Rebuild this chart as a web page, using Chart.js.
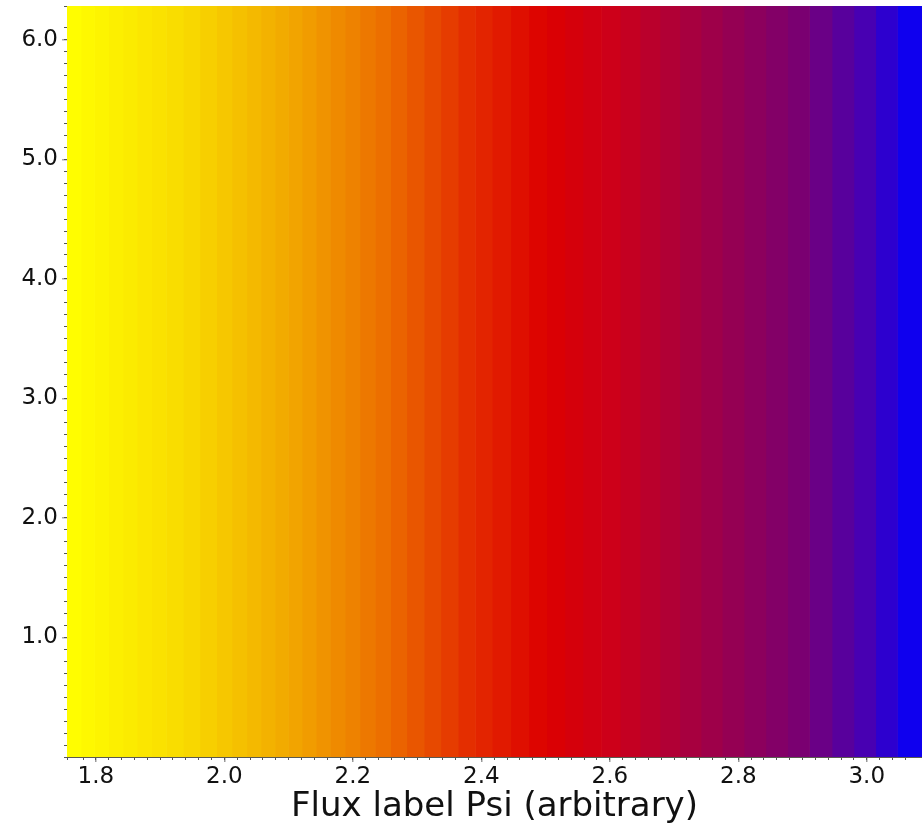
<!DOCTYPE html>
<html>
<head>
<meta charset="utf-8">
<script src="https://cdn.jsdelivr.net/npm/chart.js@4/dist/chart.umd.min.js"></script>
<style>
  html, body { margin: 0; padding: 0; background: #ffffff; }
  #wrap { width: 922px; height: 828px; position: relative; }
</style>
</head>
<body>
<div id="wrap"><canvas id="c" width="922" height="828"></canvas></div>
<script>
// ---- data ----
// Boundaries of the constant-colour cells along the flux label Psi
const psiEdges = [1.755, 1.777, 1.798, 1.820, 1.842, 1.864, 1.887, 1.910, 1.936, 1.962,
  1.988, 2.012, 2.035, 2.057, 2.079, 2.100, 2.121, 2.143, 2.165, 2.188, 2.211, 2.235,
  2.259, 2.284, 2.311, 2.337, 2.364, 2.391, 2.417, 2.446, 2.474, 2.502, 2.530, 2.558,
  2.587, 2.616, 2.647, 2.678, 2.709, 2.742, 2.775, 2.809, 2.843, 2.877, 2.911, 2.946,
  2.980, 3.014, 3.048, 3.086];
// Poloidal angle range covered by every cell
const thetaRange = [0, 2 * Math.PI];
// Axis ticks
const xMajorTicks = [1.8, 2.0, 2.2, 2.4, 2.6, 2.8, 3.0];
const yMajorTicks = [1.0, 2.0, 3.0, 4.0, 5.0, 6.0];
// Colour scale (value -> colour)
const cmapValues = [1.755, 1.95, 2.10, 2.25, 2.38, 2.46, 2.50, 2.60, 2.75, 2.90, 3.00, 3.086];
const cmapColors = [[255,255,0],[248,215,0],[242,168,0],[236,110,0],[228,45,0],[223,15,0],
  [220,0,0],[205,0,25],[160,0,70],[120,0,115],[70,0,180],[0,0,255]];

function colorFor(v) {
  if (v <= cmapValues[0]) return 'rgb(' + cmapColors[0].join(',') + ')';
  for (let i = 1; i < cmapValues.length; i++) {
    if (v <= cmapValues[i]) {
      const t = (v - cmapValues[i-1]) / (cmapValues[i] - cmapValues[i-1]);
      const a = cmapColors[i-1], b = cmapColors[i];
      return 'rgb(' + a.map((c, k) => Math.round(c + (b[k] - c) * t)).join(',') + ')';
    }
  }
  return 'rgb(' + cmapColors[cmapColors.length-1].join(',') + ')';
}

const datasets = [];
for (let i = 0; i < psiEdges.length - 1; i++) {
  const mid = (psiEdges[i] + psiEdges[i+1]) / 2;
  datasets.push({
    data: [[psiEdges[i], psiEdges[i+1]]],
    backgroundColor: colorFor(mid),
    borderWidth: 0,
    barPercentage: 1,
    categoryPercentage: 1,
    grouped: false,
    xAxisID: 'x',
    yAxisID: 'yCat'
  });
}

const FONT = "'DejaVu Sans', sans-serif";
const xMin = psiEdges[0], xMax = psiEdges[psiEdges.length - 1];
const yMin = thetaRange[0], yMax = thetaRange[1];
const noPad = s => { s.paddingTop = 0; s.paddingBottom = 0; s.paddingLeft = 0; s.paddingRight = 0; };

new Chart(document.getElementById('c'), {
  type: 'bar',
  data: { labels: ['theta'], datasets },
  options: {
    indexAxis: 'y',
    responsive: false,
    animation: false,
    events: [],
    layout: { padding: { top: 6, right: 0, left: 0, bottom: 0 } },
    plugins: { legend: { display: false }, tooltip: { enabled: false } },
    scales: {
      yCat: { type: 'category', display: false, offset: true },
      x: {
        type: 'linear', position: 'bottom', weight: 1, offset: false,
        min: xMin, max: xMax,
        afterBuildTicks: s => { s.ticks = xMajorTicks.map(v => ({ value: v })); },
        ticks: { font: { family: FONT, size: 23 }, color: '#111', padding: 1, maxRotation: 0,
                 callback: v => Number(v).toFixed(1) },
        grid: { offset: false, drawOnChartArea: false, drawTicks: true, tickLength: 5, color: '#9a9a9a', lineWidth: 1.5 },
        border: { display: true, color: '#5a5a50', width: 1 },
        title: { display: true, text: 'Flux label Psi (arbitrary)', color: '#111',
                 font: { family: FONT, size: 34 }, padding: { top: 0, bottom: 0 } },
        afterFit: s => { s.height = 71; noPad(s); }
      },
      xMinor: {
        type: 'linear', position: 'bottom', weight: 0, offset: false,
        min: xMin, max: xMax,
        ticks: { display: false, stepSize: 0.02 },
        grid: { offset: false, drawOnChartArea: false, drawTicks: true, tickLength: 3, color: '#555' },
        border: { display: false },
        afterFit: s => { s.height = 0; noPad(s); }
      },
      xTop: {
        type: 'linear', position: 'top', offset: false,
        min: xMin, max: xMax,
        ticks: { display: false },
        grid: { offset: false, drawOnChartArea: false, drawTicks: false },
        border: { display: true, color: '#5a5a50', width: 1 },
        afterFit: s => { s.height = 0; noPad(s); }
      },
      y: {
        type: 'linear', position: 'left', weight: 1, offset: false,
        min: yMin, max: yMax,
        afterBuildTicks: s => { s.ticks = yMajorTicks.map(v => ({ value: v })); },
        ticks: { font: { family: FONT, size: 23 }, color: '#111', padding: 4,
                 callback: v => Number(v).toFixed(1) },
        grid: { offset: false, drawOnChartArea: false, drawTicks: true, tickLength: 5, color: '#aaaaaa', lineWidth: 1.5 },
        border: { display: true, color: '#5a5a50', width: 1 },
        afterFit: s => { s.width = 67; noPad(s); }
      },
      yMinor: {
        type: 'linear', position: 'left', weight: 0, offset: false,
        min: yMin, max: yMax,
        ticks: { display: false, stepSize: 0.1 },
        grid: { offset: false, drawOnChartArea: false, drawTicks: true, tickLength: 3, color: '#555' },
        border: { display: false },
        afterFit: s => { s.width = 0; noPad(s); }
      }
    }
  }
});
</script>
</body>
</html>
